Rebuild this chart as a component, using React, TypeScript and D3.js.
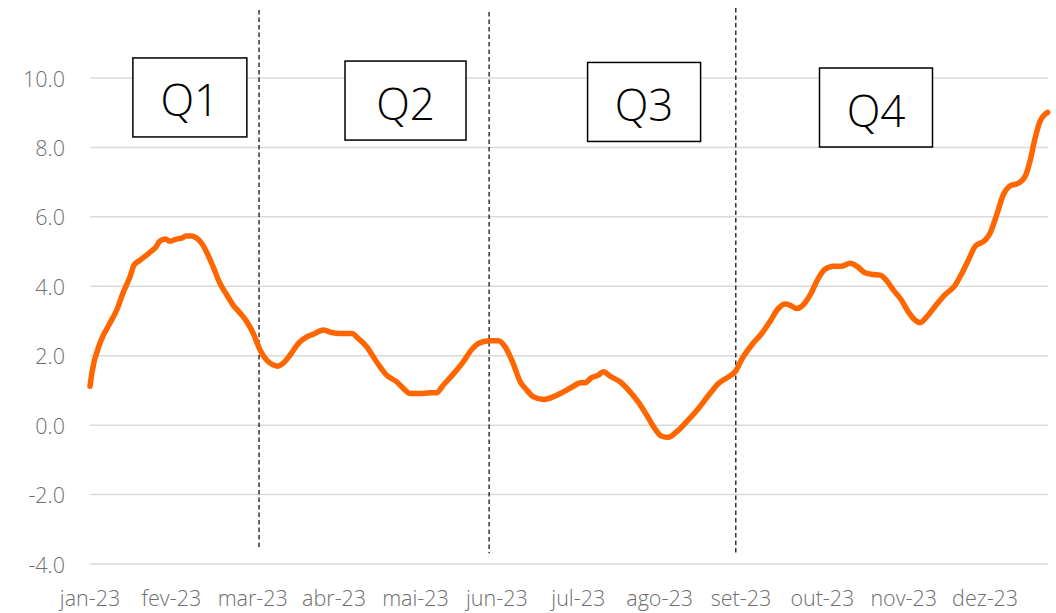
import React from "react";
import * as d3 from "d3";

// business-day index (0..259) of each sampled point and its value
const pointIndex = [
  0, 0.5, 2.7, 5.4, 7.2, 8.9, 10.8, 11.9, 13.5, 15.3, 16.7, 17.6, 18.9, 20.3, 21.6, 23.4, 24.8, 26.1, 27.5, 28.8,
  30.2, 31.5, 33.3, 35.1, 37.0, 38.7, 40.5, 42.4, 44.1, 46.0, 47.8, 49.6, 50.8, 52.3, 54.1, 56.3, 58.6, 60.4, 63.1, 65.3,
  67.6, 70.8, 72.5, 74.8, 77.5, 80.2, 82.9, 84.7, 86.5, 89.2, 91.9, 93.7, 95.5, 98.2, 100.9, 103.2, 105.4, 108.1, 110.4, 112.2,
  114.4, 116.3, 118.1, 119.8, 122.5, 125.3, 128.0, 130.7, 132.5, 133.8, 135.6, 137.4, 138.8, 140.6, 143.3, 146.0, 148.2, 150.5, 152.7, 154.6,
  156.3, 158.6, 161.3, 164.5, 167.6, 169.9, 172.6, 174.4, 176.6, 178.9, 181.6, 183.8, 186.1, 187.9, 189.2, 191.1, 192.8, 194.7, 196.9, 198.7,
  201.0, 203.2, 205.5, 207.3, 209.5, 211.8, 213.6, 215.4, 217.2, 219.4, 221.2, 223.0, 224.4, 226.2, 228.4, 231.1, 233.9, 235.7, 237.5, 239.3,
  242.0, 243.3, 245.1, 246.9, 248.7, 251.0, 252.8, 254.1, 255.5, 256.8, 258.9,
];
const values = [
  1.12, 1.5, 2.36, 2.94, 3.31, 3.8, 4.27, 4.61, 4.75, 4.9, 5.02, 5.1, 5.3, 5.36, 5.3, 5.36, 5.39, 5.45, 5.45, 5.39,
  5.24, 4.99, 4.56, 4.09, 3.75, 3.46, 3.24, 2.98, 2.65, 2.16, 1.87, 1.73, 1.7, 1.79, 2.02, 2.35, 2.54, 2.62, 2.74, 2.67,
  2.64, 2.64, 2.5, 2.26, 1.82, 1.44, 1.25, 1.06, 0.91, 0.91, 0.93, 0.93, 1.15, 1.47, 1.82, 2.18, 2.37, 2.43, 2.43, 2.26,
  1.78, 1.25, 1.01, 0.82, 0.74, 0.82, 0.96, 1.12, 1.22, 1.22, 1.37, 1.44, 1.54, 1.41, 1.25, 0.96, 0.67, 0.29, -0.1, -0.32,
  -0.35, -0.19, 0.1, 0.48, 0.91, 1.2, 1.39, 1.54, 1.97, 2.31, 2.64, 2.98, 3.36, 3.49, 3.46, 3.36, 3.46, 3.75, 4.23, 4.49,
  4.58, 4.58, 4.66, 4.58, 4.39, 4.34, 4.32, 4.16, 3.89, 3.6, 3.27, 3.03, 2.95, 3.12, 3.41, 3.75, 4.03, 4.37, 4.76, 5.15,
  5.33, 5.52, 6.05, 6.63, 6.89, 6.97, 7.16, 7.59, 8.26, 8.74, 9.01,
];

const monthLabels = ["jan-23", "fev-23", "mar-23", "abr-23", "mai-23", "jun-23", "jul-23", "ago-23", "set-23", "out-23", "nov-23", "dez-23"];
const labelStep = 22; // one label every 22 business days
const yTicks = [-4, -2, 0, 2, 4, 6, 8, 10];

const quarterNames = ["Q1", "Q2", "Q3", "Q4"];
const quarterBoxIndex = [27.0, 85.3, 149.8, 212.5];
const quarterBoxValue = [9.44, 9.35, 9.31, 9.15];
const dividerIndex = [45.7, 107.9, 174.6];
const dividerTop = [11.96, 11.9, 12.02];
const dividerBottom = [-3.54, -3.69, -3.69];

const W = 1056;
const H = 613;
const FONT = "'Segoe UI', 'Open Sans', 'Noto Sans', sans-serif";

export default function App() {
  const x = d3.scaleLinear().domain([0, 259]).range([90, 1048]);
  const y = d3.scaleLinear().domain([-4, 10]).range([564, 78]);

  const pts: [number, number][] = pointIndex.map((i, k) => [i, values[k]]);
  const line = d3
    .line<[number, number]>()
    .x((d) => x(d[0]))
    .y((d) => y(d[1]))
    .curve(d3.curveMonotoneX);

  const boxW = [114, 121, 113, 113];
  const boxH = 79;

  return (
    <svg width={W} height={H} style={{ position: "absolute", left: 0, top: 0, background: "#fff" }}>
      {yTicks.map((t) => (
        <g key={t}>
          <line x1={x(0)} x2={x(259)} y1={y(t)} y2={y(t)} stroke="#d9d9d9" strokeWidth={1.5} />
          <text
            x={65}
            y={y(t)}
            textAnchor="end"
            dominantBaseline="central"
            fontFamily={FONT}
            fontWeight={300}
            fontSize={21.5}
            fill="#6e6e6e"
          >
            {t.toFixed(1)}
          </text>
        </g>
      ))}
      {monthLabels.map((m, i) => (
        <text
          key={m}
          x={x(i * labelStep)}
          y={606}
          textAnchor="middle"
          fontFamily={FONT}
          fontWeight={300}
          fontSize={21.5}
          fill="#6e6e6e"
        >
          {m}
        </text>
      ))}
      {dividerIndex.map((d, i) => (
        <line
          key={i}
          x1={x(d)}
          x2={x(d)}
          y1={y(dividerTop[i])}
          y2={y(dividerBottom[i])}
          stroke="#000"
          strokeWidth={1.2}
          strokeDasharray="4.5,3"
        />
      ))}
      {quarterNames.map((q, i) => {
        const cx = x(quarterBoxIndex[i]);
        const cy = y(quarterBoxValue[i]);
        return (
          <g key={q}>
            <rect
              x={cx - boxW[i] / 2}
              y={cy - boxH / 2}
              width={boxW[i]}
              height={boxH}
              fill="#fff"
              stroke="#000"
              strokeWidth={1.5}
            />
            <text
              x={cx}
              y={cy + 2}
              textAnchor="middle"
              dominantBaseline="central"
              fontFamily={FONT}
              fontWeight={300}
              fontSize={44}
              fill="#000"
            >
              {q}
            </text>
          </g>
        );
      })}
      <path
        d={line(pts) || ""}
        fill="none"
        stroke="#ff6600"
        strokeWidth={5.5}
        strokeLinejoin="round"
        strokeLinecap="round"
      />
    </svg>
  );
}
